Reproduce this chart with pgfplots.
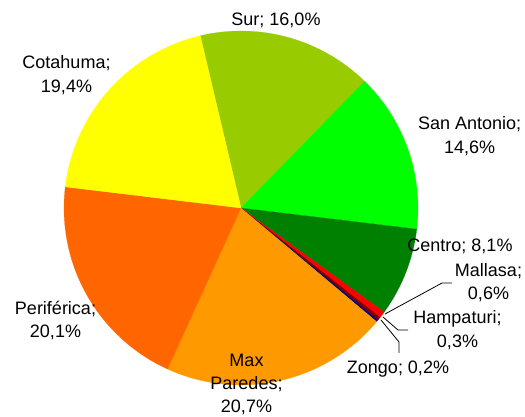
\documentclass[border=0pt]{standalone}
\usepackage{pgfplots}
\pgfplotsset{compat=1.18}
\usepackage{pgfplotstable}
\usepackage{fontspec}
\setmainfont{Liberation Sans}
\definecolor{sur}{HTML}{99CC00}
\definecolor{sanantonio}{HTML}{00FF00}
\definecolor{centro}{HTML}{008000}
\definecolor{mallasa}{HTML}{FF0000}
\definecolor{hampaturi}{HTML}{800000}
\definecolor{zongo}{HTML}{000080}
\definecolor{maxparedes}{HTML}{FF9900}
\definecolor{periferica}{HTML}{FF6600}
\definecolor{cotahuma}{HTML}{FFFF00}
\pgfplotstableread{
name value color
Sur 16.0 sur
SanAntonio 14.6 sanantonio
Centro 8.1 centro
Mallasa 0.6 mallasa
Hampaturi 0.3 hampaturi
Zongo 0.2 zongo
MaxParedes 20.7 maxparedes
Periferica 20.1 periferica
Cotahuma 19.4 cotahuma
}\piedata
\newcommand{\lab}[3]{\node[anchor=base,inner sep=0pt,font=\fontsize{18}{21}\selectfont] at (axis cs:#1,#2) {#3};}
\begin{document}
\begin{tikzpicture}
\begin{axis}[
  width=525pt, height=417pt, scale only axis,
  xmin=0, xmax=525, ymin=0, ymax=417,
  hide axis, clip=false,
]
\path (rel axis cs:0,0) rectangle (rel axis cs:1,1);
\pgfplotstablegetrowsof{\piedata}
\pgfmathtruncatemacro\nrows{\pgfplotsretval-1}
\def\cum{0}
\def\startang{103.3}
\pgfplotsforeachungrouped \i in {0,...,\nrows}{%
  \pgfplotstablegetelem{\i}{value}\of\piedata \let\v\pgfplotsretval
  \pgfplotstablegetelem{\i}{color}\of\piedata \let\c\pgfplotsretval
  \pgfmathsetmacro\a{\startang - \cum*3.6}%
  \pgfmathsetmacro\b{\startang - (\cum+\v)*3.6}%
  \edef\tmp{\noexpand\addplot[fill=\c, draw=\c, line width=0.2pt, domain=\b:\a, samples=80] ({241+177*cos(x)},{209+177*sin(x)}) -- (axis cs:241,209) -- cycle;}%
  \tmp
  \pgfmathsetmacro\cum{\cum+\v}%
}
% leader lines
\addplot[black, line width=0.8pt] coordinates {(385,103) (442,134) (452,134)};
\addplot[black, line width=0.8pt] coordinates {(383,100) (398,87) (408,87)};
\addplot[black, line width=0.8pt] coordinates {(381,97) (399,75) (399,64)};
% labels
\lab{276}{391}{Sur; 16,0\%}
\lab{66.5}{348}{Cotahuma;}
\lab{66.5}{324.5}{19,4\%}
\lab{469.7}{287.7}{San Antonio;}
\lab{469.7}{263.7}{14,6\%}
\lab{460}{165.3}{Centro; 8,1\%}
\lab{488.5}{140.3}{Mallasa;}
\lab{488.5}{117}{0,6\%}
\lab{457.5}{93}{Hampaturi;}
\lab{457.5}{69}{0,3\%}
\lab{398}{43}{Zongo; 0,2\%}
\lab{55.5}{102}{Periférica;}
\lab{55.5}{79}{20,1\%}
\lab{246.5}{50.3}{Max}
\lab{246.5}{27}{Paredes;}
\lab{246.5}{4}{20,7\%}
\end{axis}
\end{tikzpicture}
\end{document}
